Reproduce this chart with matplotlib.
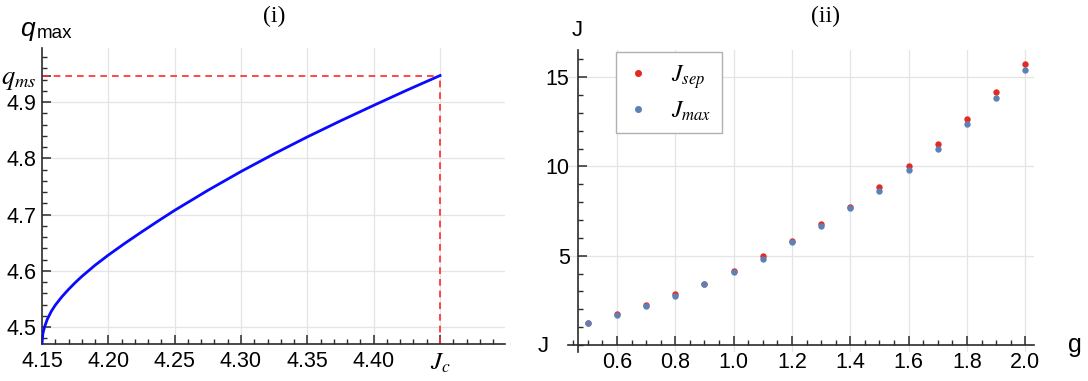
import matplotlib
matplotlib.use("Agg")
import matplotlib.pyplot as plt
from matplotlib.ticker import MultipleLocator, FixedLocator, FormatStrFormatter

plt.rcParams["font.family"] = ["Liberation Sans", "DejaVu Sans"]
plt.rcParams["mathtext.fontset"] = "stix"

# panel (i): q_max against J
J_vals = [4.150, 4.1505, 4.151, 4.152, 4.154, 4.157, 4.160, 4.165, 4.170, 4.175,
          4.180, 4.190, 4.200, 4.2125, 4.225, 4.2375, 4.250, 4.275, 4.300, 4.325,
          4.350, 4.375, 4.400, 4.425, 4.450]
q_vals = [4.470, 4.4855, 4.492, 4.501, 4.514, 4.528, 4.539, 4.554, 4.567, 4.579,
          4.590, 4.610, 4.628, 4.649, 4.669, 4.6885, 4.7075, 4.743, 4.7765, 4.808,
          4.838, 4.8665, 4.894, 4.921, 4.947]
J_c = 4.45
q_ms = 4.947

# panel (ii): J_sep and J_max against g
g_vals = [0.5, 0.6, 0.7, 0.8, 0.9, 1.0, 1.1, 1.2, 1.3, 1.4, 1.5, 1.6, 1.7, 1.8, 1.9, 2.0]
J_sep = [1.25, 1.75, 2.26, 2.84, 3.40, 4.16, 5.00, 5.84, 6.78, 7.74, 8.83, 10.00, 11.24, 12.67, 14.17, 15.75]
J_max = [1.25, 1.66, 2.17, 2.74, 3.40, 4.07, 4.82, 5.75, 6.66, 7.65, 8.64, 9.82, 10.97, 12.39, 13.81, 15.40]

fig = plt.figure(figsize=(10.88, 3.81), dpi=100)
ax1 = fig.add_axes([42 / 1088, 37 / 381, 463 / 1088, 296 / 381])
ax2 = fig.add_axes([568 / 1088, 29 / 381, 466 / 1088, 302 / 381])

grid_c = "#e4e4e4"
spine_c = "#2b2b2b"

for ax in (ax1, ax2):
    for s in ("top", "right"):
        ax.spines[s].set_visible(False)
    for s in ("left", "bottom"):
        ax.spines[s].set_color(spine_c)
        ax.spines[s].set_linewidth(1.2)
    ax.tick_params(which="both", direction="in", color=spine_c, labelsize=15.5)
    ax.tick_params(which="major", length=6.5, width=1.1)
    ax.tick_params(which="minor", length=3.5, width=1.0)
    ax.set_axisbelow(True)

# ---- panel (i)
ax1.plot(J_vals, q_vals, color="#0a0aff", lw=2.0, zorder=3)
ax1.plot([4.15, J_c], [q_ms, q_ms], color="#ff2a2a", lw=1.2, ls=(0, (4, 3)), zorder=2)
ax1.plot([J_c, J_c], [4.47, q_ms], color="#ff2a2a", lw=1.2, ls=(0, (4, 3)), zorder=2)
ax1.set_xlim(4.15, 4.499)
ax1.set_ylim(4.47, 4.996)
xt1 = [4.15, 4.20, 4.25, 4.30, 4.35, 4.40, J_c]
ax1.xaxis.set_major_locator(FixedLocator(xt1))
ax1.set_xticklabels(["4.15", "4.20", "4.25", "4.30", "4.35", "4.40", r"$J_c$"])
ax1.xaxis.set_minor_locator(MultipleLocator(0.01))
yt1 = [4.5, 4.6, 4.7, 4.8, 4.9, q_ms]
ax1.yaxis.set_major_locator(FixedLocator(yt1))
ax1.set_yticklabels(["4.5", "4.6", "4.7", "4.8", "4.9", r"$q_{ms}$"])
ax1.yaxis.set_minor_locator(MultipleLocator(0.02))
ax1.get_xticklabels()[-1].set_fontsize(18)
ax1.get_yticklabels()[-1].set_fontsize(19)
ax1.tick_params(axis="x", pad=5)
ax1.tick_params(axis="y", pad=4)
for x in [4.20, 4.25, 4.30, 4.35, 4.40, J_c]:
    ax1.axvline(x, color=grid_c, lw=0.9, zorder=0)
for y in [4.5, 4.6, 4.7, 4.8, 4.9]:
    ax1.axhline(y, color=grid_c, lw=0.9, zorder=0)
fig.text(20 / 1088, 1 - 29 / 381, "q", fontsize=19, style="italic", va="center", ha="left")
fig.text(37 / 1088, 1 - 33 / 381, "max", fontsize=13.5, va="center", ha="left")
fig.text(543 / 1088, 1 - 346 / 381, "J", fontsize=16, va="center", ha="center")
fig.text(274 / 1088, 1 - 16 / 381, "(i)", fontsize=17, family="Liberation Serif",
         va="center", ha="center")

# ---- panel (ii)
ax2.plot(g_vals, J_sep, "o", color="#e32b24", ms=4.6, mec="none", label=r"$J_{sep}$", zorder=3)
ax2.plot(g_vals, J_max, "o", color="#5e81b5", ms=4.6, mec="none", label=r"$J_{max}$", zorder=4)
ax2.set_xlim(0.432, 2.03)
ax2.set_ylim(-0.39, 16.52)
ax2.spines["left"].set_position(("data", 0.466))
ax2.spines["bottom"].set_position(("data", 0))
ax2.xaxis.set_major_locator(FixedLocator([0.6, 0.8, 1.0, 1.2, 1.4, 1.6, 1.8, 2.0]))
ax2.xaxis.set_minor_locator(MultipleLocator(0.05))
ax2.yaxis.set_major_locator(FixedLocator([5, 10, 15]))
ax2.yaxis.set_minor_locator(MultipleLocator(1))
ax2.xaxis.set_major_formatter(FormatStrFormatter("%.1f"))
ax2.tick_params(axis="x", pad=5)
ax2.tick_params(axis="y", pad=6)
for x in [0.6, 0.8, 1.0, 1.2, 1.4, 1.6, 1.8, 2.0]:
    ax2.axvline(x, color=grid_c, lw=0.9, zorder=0)
for y in [5, 10, 15]:
    ax2.axhline(y, color=grid_c, lw=0.9, zorder=0)
leg = ax2.legend(loc="upper left", bbox_to_anchor=(0.103, 0.993), fontsize=17,
                 frameon=True, fancybox=False, edgecolor="#b0b0b0", framealpha=1,
                 handletextpad=0.9, labelspacing=0.38, borderpad=0.45,
                 borderaxespad=0, handlelength=1.0, markerscale=1.1)
leg.get_frame().set_linewidth(1.0)
fig.text(577 / 1088, 1 - 30 / 381, "J", fontsize=16, va="center", ha="center")
fig.text(1075 / 1088, 1 - 345 / 381, "g", fontsize=18, va="center", ha="center")
fig.text(825 / 1088, 1 - 16 / 381, "(ii)", fontsize=17, family="Liberation Serif",
         va="center", ha="center")

fig.savefig("out.png", dpi=100)
plt.close(fig)
